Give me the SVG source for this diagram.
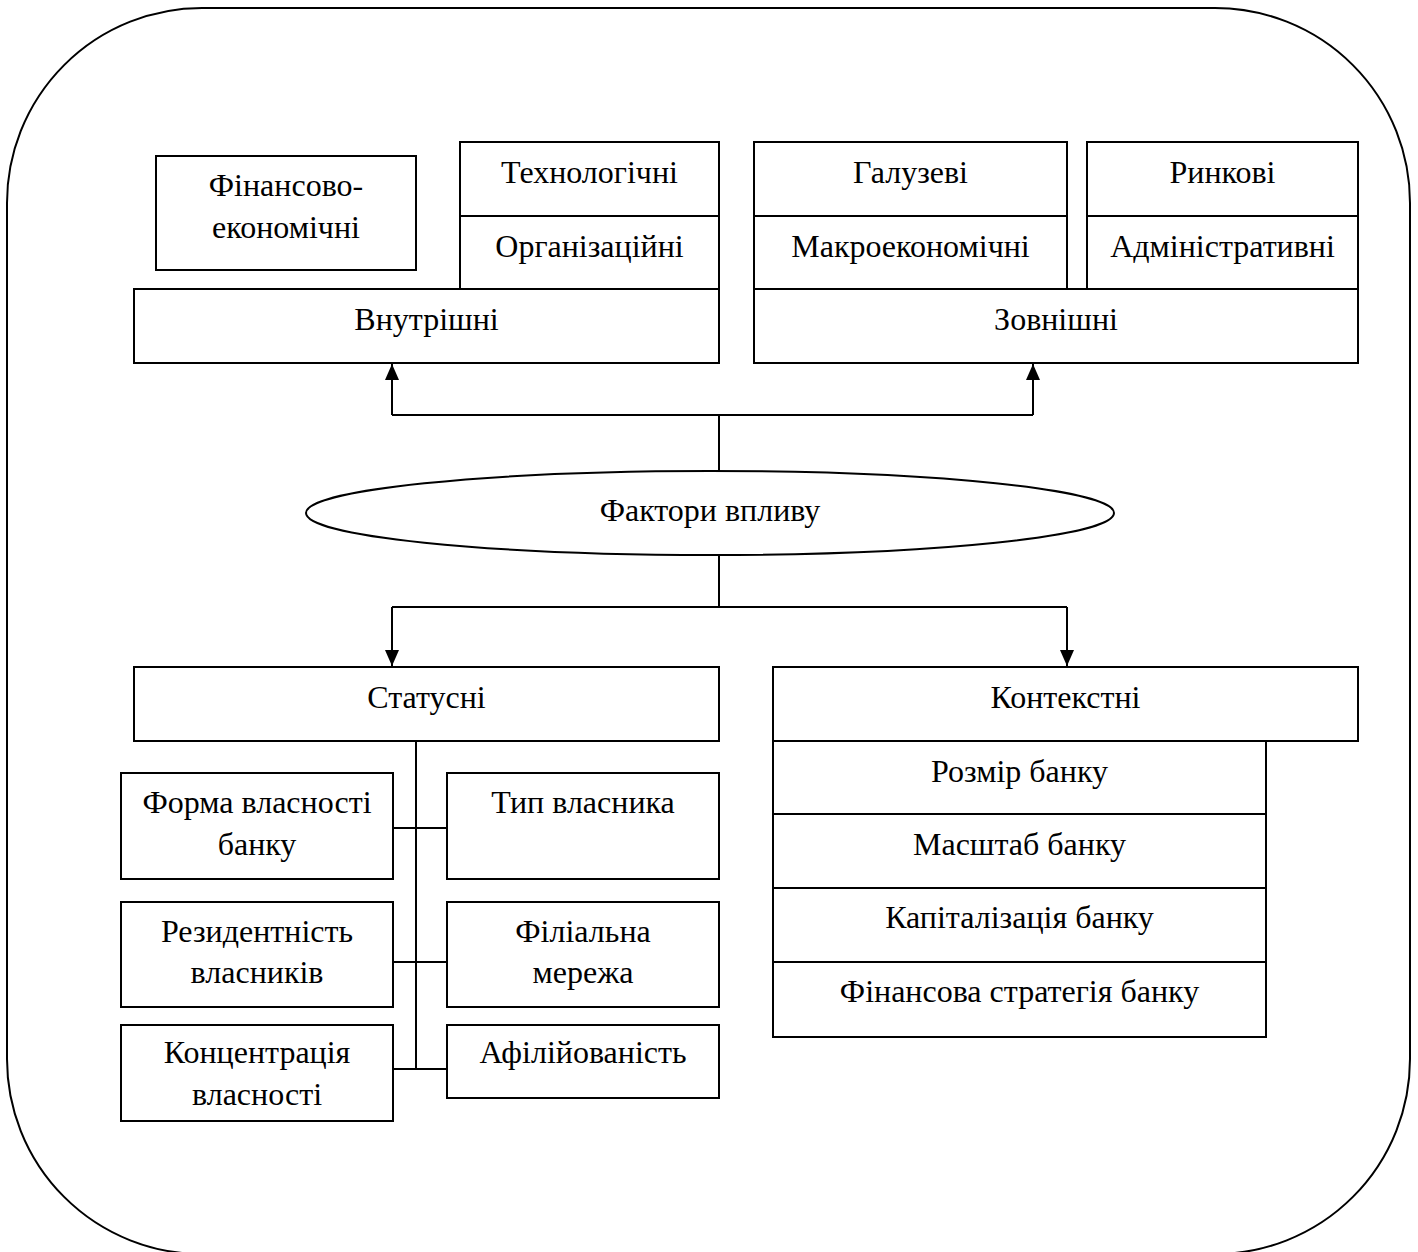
<svg xmlns="http://www.w3.org/2000/svg" width="1418" height="1252" viewBox="0 0 1418 1252">
<style>
  .box { fill: #fff; stroke: #000; stroke-width: 2; }
  .ln { fill: none; stroke: #000; stroke-width: 2; }
  text { font-family: "Liberation Serif", "Times New Roman", serif; font-size: 32px; fill: #000; text-anchor: middle; }
</style>
<defs>
  <marker id="arr" viewBox="0 0 16 14" refX="16" refY="7" markerWidth="16" markerHeight="14" markerUnits="userSpaceOnUse" orient="auto">
    <path d="M0,0 L16,7 L0,14 Z" fill="#000"/>
  </marker>
</defs>
<rect width="1418" height="1252" fill="#fff"/>
<rect id="frame" x="7" y="8" width="1403" height="1246" rx="195" ry="195" fill="none" stroke="#000" stroke-width="2"/>

<g id="connectors">
  <path class="ln" d="M719,471 V415"/>
  <path class="ln" d="M392,415 H1033"/>
  <path class="ln" d="M392,415 V364" marker-end="url(#arr)"/>
  <path class="ln" d="M1033,415 V364" marker-end="url(#arr)"/>
  <path class="ln" d="M719,555 V607"/>
  <path class="ln" d="M392,607 H1067"/>
  <path class="ln" d="M392,607 V666" marker-end="url(#arr)"/>
  <path class="ln" d="M1067,607 V666" marker-end="url(#arr)"/>
  <path class="ln" d="M416,741 V1069"/>
  <path class="ln" d="M393,828 H447"/>
  <path class="ln" d="M393,962 H447"/>
  <path class="ln" d="M393,1069 H447"/>
</g>

<g id="fin-econ">
  <rect class="box" x="156" y="156" width="260" height="114"/>
  <text x="286" y="196">Фінансово-</text>
  <text x="286" y="238">економічні</text>
</g>
<g id="tech">
  <rect class="box" x="460" y="142" width="259" height="74"/>
  <text x="589.5" y="183">Технологічні</text>
</g>
<g id="org">
  <rect class="box" x="460" y="216" width="259" height="73"/>
  <text x="589.5" y="257">Організаційні</text>
</g>
<g id="internal">
  <rect class="box" x="134" y="289" width="585" height="74"/>
  <text x="426.5" y="330">Внутрішні</text>
</g>

<g id="galuz">
  <rect class="box" x="754" y="142" width="313" height="74"/>
  <text x="910.5" y="183">Галузеві</text>
</g>
<g id="macro">
  <rect class="box" x="754" y="216" width="313" height="73"/>
  <text x="910.5" y="257">Макроекономічні</text>
</g>
<g id="market">
  <rect class="box" x="1087" y="142" width="271" height="74"/>
  <text x="1222.5" y="183">Ринкові</text>
</g>
<g id="admin">
  <rect class="box" x="1087" y="216" width="271" height="73"/>
  <text x="1222.5" y="257">Адміністративні</text>
</g>
<g id="external">
  <rect class="box" x="754" y="289" width="604" height="74"/>
  <text x="1056" y="330">Зовнішні</text>
</g>

<g id="factors">
  <ellipse cx="710" cy="513" rx="404" ry="42" fill="#fff" stroke="#000" stroke-width="2"/>
  <text x="710" y="521">Фактори впливу</text>
</g>

<g id="status">
  <rect class="box" x="134" y="667" width="585" height="74"/>
  <text x="426.5" y="708">Статусні</text>
</g>
<g id="context">
  <rect class="box" x="773" y="667" width="585" height="74"/>
  <text x="1065.5" y="708">Контекстні</text>
</g>
<g id="size">
  <rect class="box" x="773" y="741" width="493" height="73"/>
  <text x="1019.5" y="782">Розмір банку</text>
</g>
<g id="scale">
  <rect class="box" x="773" y="814" width="493" height="74"/>
  <text x="1019.5" y="855">Масштаб банку</text>
</g>
<g id="capital">
  <rect class="box" x="773" y="888" width="493" height="74"/>
  <text x="1019.5" y="928">Капіталізація банку</text>
</g>
<g id="strategy">
  <rect class="box" x="773" y="962" width="493" height="75"/>
  <text x="1019.5" y="1002">Фінансова стратегія банку</text>
</g>

<g id="ownership-form">
  <rect class="box" x="121" y="773" width="272" height="106"/>
  <text x="257" y="813">Форма власності</text>
  <text x="257" y="855">банку</text>
</g>
<g id="owner-type">
  <rect class="box" x="447" y="773" width="272" height="106"/>
  <text x="583" y="813">Тип власника</text>
</g>
<g id="residency">
  <rect class="box" x="121" y="902" width="272" height="105"/>
  <text x="257" y="942">Резидентність</text>
  <text x="257" y="983">власників</text>
</g>
<g id="branch">
  <rect class="box" x="447" y="902" width="272" height="105"/>
  <text x="583" y="942">Філіальна</text>
  <text x="583" y="983">мережа</text>
</g>
<g id="concentration">
  <rect class="box" x="121" y="1025" width="272" height="96"/>
  <text x="257" y="1063">Концентрація</text>
  <text x="257" y="1105">власності</text>
</g>
<g id="affiliation">
  <rect class="box" x="447" y="1025" width="272" height="73"/>
  <text x="583" y="1063">Афілійованість</text>
</g>
</svg>
